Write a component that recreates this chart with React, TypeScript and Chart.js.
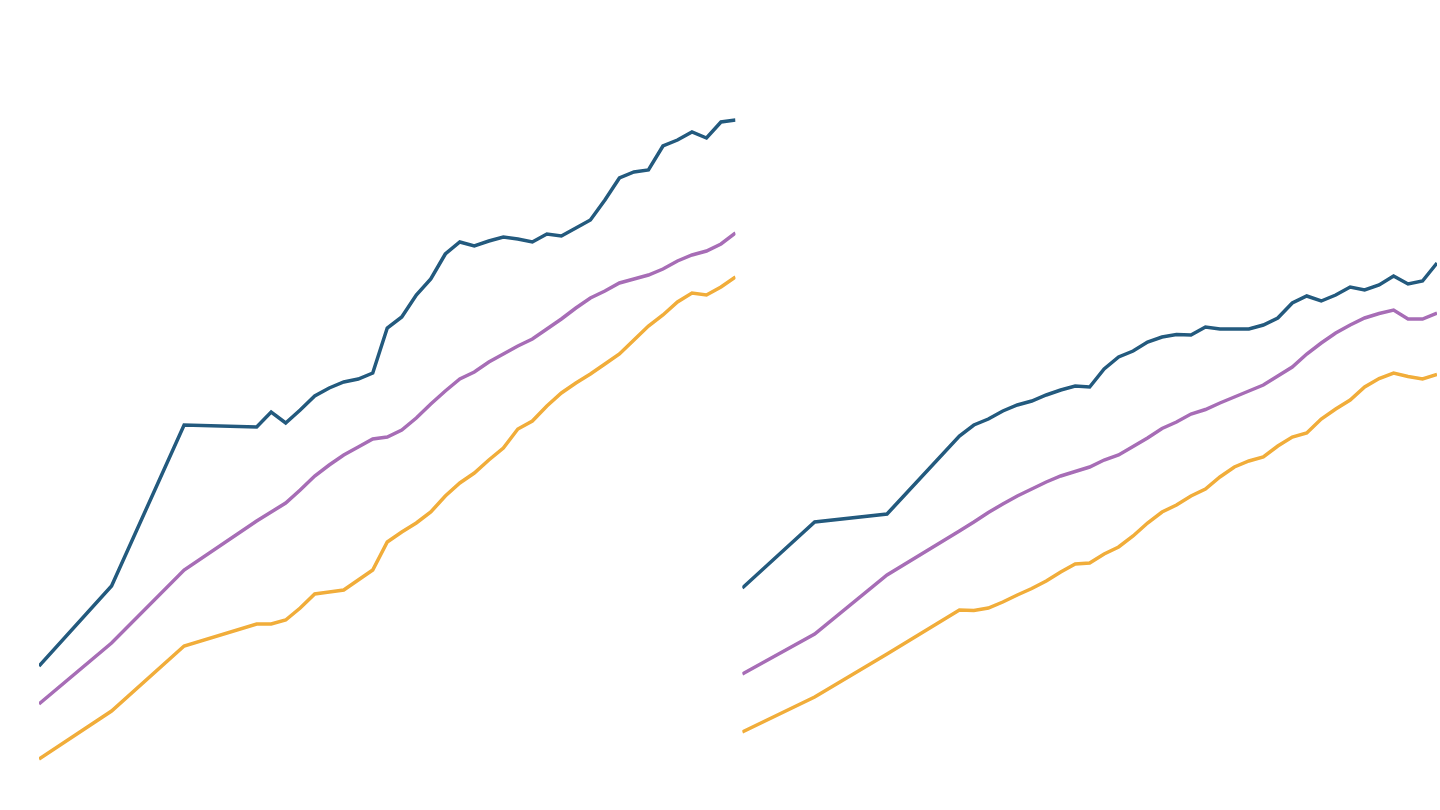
import { useEffect, useRef } from "react";
import { Chart, registerables } from "chart.js";

Chart.register(...registerables);

// five-year steps to 1975, then yearly
const years = [
  1960, 1965, 1970, 1975, 1976, 1977, 1978, 1979, 1980, 1981, 1982, 1983, 1984,
  1985, 1986, 1987, 1988, 1989, 1990, 1991, 1992, 1993, 1994, 1995, 1996, 1997,
  1998, 1999, 2000, 2001, 2002, 2003, 2004, 2005, 2006, 2007, 2008,
];

const leftTop = [
  14.4, 22.4, 38.5, 38.3, 39.8, 38.7, 40.0, 41.4, 42.2, 42.8, 43.1, 43.7, 48.2,
  49.3, 51.5, 53.1, 55.6, 56.8, 56.4, 56.9, 57.3, 57.1, 56.8, 57.6, 57.4, 58.2,
  59.0, 61.0, 63.2, 63.8, 64.0, 66.4, 67.0, 67.8, 67.2, 68.8, 69.0,
];
const leftMid = [
  10.6, 16.7, 24.0, 28.9, 29.8, 30.7, 32.0, 33.4, 34.5, 35.5, 36.3, 37.1, 37.3,
  38.0, 39.2, 40.6, 41.9, 43.1, 43.8, 44.8, 45.6, 46.4, 47.1, 48.1, 49.1, 50.2,
  51.2, 51.9, 52.7, 53.1, 53.5, 54.1, 54.9, 55.5, 55.9, 56.6, 57.7,
];
const leftLow = [
  5.1, 9.9, 16.4, 18.6, 18.6, 19.0, 20.2, 21.6, 21.8, 22.0, 23.0, 24.0, 26.8,
  27.8, 28.7, 29.8, 31.4, 32.7, 33.7, 35.0, 36.2, 38.1, 38.9, 40.4, 41.7, 42.7,
  43.6, 44.6, 45.6, 47.0, 48.4, 49.5, 50.8, 51.7, 51.5, 52.3, 53.3,
];

const rightTop = [
  22.2, 28.8, 29.6, 37.4, 38.5, 39.1, 39.9, 40.5, 40.9, 41.5, 42.0, 42.4, 42.3,
  44.1, 45.3, 45.9, 46.8, 47.3, 47.55, 47.5, 48.3, 48.1, 48.1, 48.1, 48.5, 49.2,
  50.7, 51.4, 50.9, 51.5, 52.3, 52.0, 52.5, 53.4, 52.6, 52.9, 54.7,
];
const rightMid = [
  13.6, 17.6, 23.5, 27.9, 28.8, 29.75, 30.6, 31.4, 32.1, 32.8, 33.4, 33.85, 34.3,
  35.0, 35.5, 36.35, 37.2, 38.15, 38.8, 39.6, 40.05, 40.7, 41.3, 41.9, 42.5, 43.4,
  44.3, 45.6, 46.7, 47.7, 48.5, 49.2, 49.65, 50.0, 49.1, 49.1, 49.7,
];
const rightLow = [
  7.8, 11.3, 15.6, 20.0, 19.95, 20.2, 20.8, 21.5, 22.15, 22.9, 23.8, 24.6, 24.7,
  25.6, 26.3, 27.4, 28.7, 29.8, 30.5, 31.4, 32.1, 33.3, 34.3, 34.9, 35.3, 36.4,
  37.3, 37.7, 39.1, 40.1, 41.0, 42.3, 43.15, 43.7, 43.35, 43.1, 43.55,
];

const COLORS = ["#235a7e", "#a76db6", "#f1ad3a"];

interface PanelProps {
  series: number[][];
  padLeft: number;
  padRight: number;
}

function Panel({ series, padLeft, padRight }: PanelProps) {
  const canvasRef = useRef<HTMLCanvasElement>(null);
  const chartRef = useRef<Chart | null>(null);

  useEffect(() => {
    if (!canvasRef.current) return;

    chartRef.current?.destroy();
    chartRef.current = new Chart(canvasRef.current, {
      type: "line",
      data: {
        datasets: series.map((vals, i) => ({
          data: vals.map((v, j) => ({ x: years[j], y: v })),
          borderColor: COLORS[i],
          borderWidth: 3.5,
          pointRadius: 0,
          tension: 0,
          fill: false,
        })),
      },
      options: {
        animation: false,
        responsive: true,
        maintainAspectRatio: false,
        layout: { padding: { left: padLeft, right: padRight, top: 0, bottom: 0 } },
        plugins: { legend: { display: false }, tooltip: { enabled: false } },
        scales: {
          x: { type: "linear", min: 1960, max: 2008, display: false },
          y: { min: 0, max: 81, display: false },
        },
      },
    });

    return () => {
      chartRef.current?.destroy();
    };
  }, [series, padLeft, padRight]);

  return <canvas ref={canvasRef} />;
}

export default function App() {
  return (
    <div style={{ position: "fixed", left: 0, top: 0, width: 1440, height: 810, background: "#fff" }}>
      <div style={{ position: "absolute", left: 0, top: 0, width: 740, height: 810 }}>
        <Panel series={[leftTop, leftMid, leftLow]} padLeft={39} padRight={4.5} />
      </div>
      <div style={{ position: "absolute", left: 740, top: 0, width: 700, height: 810 }}>
        <Panel series={[rightTop, rightMid, rightLow]} padLeft={2.3} padRight={3} />
      </div>
    </div>
  );
}
